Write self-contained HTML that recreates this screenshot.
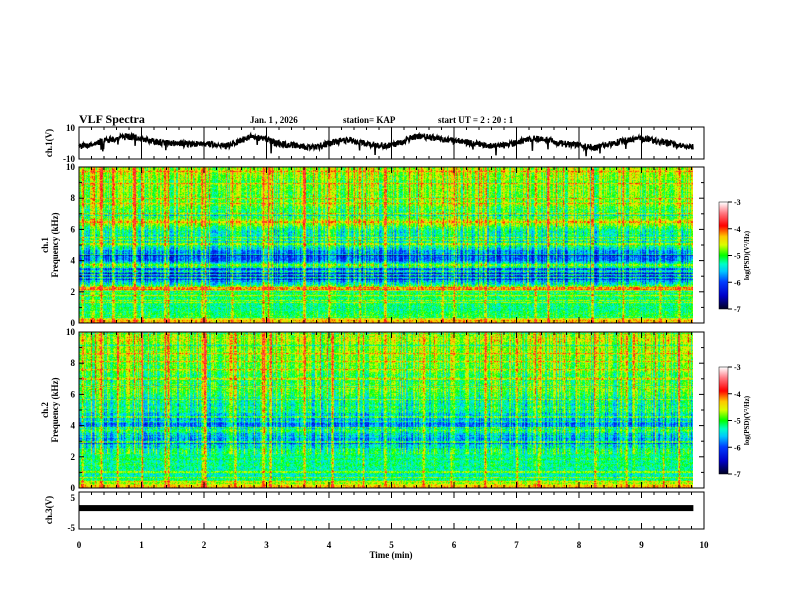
<!DOCTYPE html>
<html><head><meta charset="utf-8">
<style>
html,body{margin:0;padding:0;background:#fff;}
#wrap{position:relative;width:792px;height:612px;overflow:hidden;background:#fff;}
canvas{position:absolute;}
svg{position:absolute;left:0;top:0;}
text{font-family:"Liberation Serif",serif;font-weight:bold;fill:#000;}
</style></head>
<body>
<div id="wrap">
<canvas id="spec1" width="614" height="156" style="left:79px;top:167px"></canvas>
<canvas id="spec2" width="614" height="156" style="left:79px;top:332px"></canvas>
<canvas id="cb1" width="9" height="107" style="left:719px;top:202px"></canvas>
<canvas id="cb2" width="9" height="107" style="left:719px;top:367px"></canvas>
<svg id="svg" width="792" height="612"></svg>
</div>
<script>
// ---- data ----
const timeTicks = [0,1,2,3,4,5,6,7,8,9,10];
const freqTicks = [0,2,4,6,8,10];
const cbTicks = [-3,-4,-5,-6,-7];
// ch1 voltage trace (one sample every 0.2 min)
const ch1Volts = [-2,-1,1,3,4,3,1,0,0,-1,0,-1,-2,1,4,3,0,-1,-2,-3,-1,1,2,0,-1,-2,0,3,4,3,2,1,0,-1,-2,-1,1,3,2,0,-1,-2,-3,-1,1,2,3,1,0,-2];
const ch3Volts = [1,1,1,1,1,1,1,1,1,1];
// mean log PSD profile vs frequency (kHz from 0 to 10 at 0.25 kHz)
const freqBins = [0,0.25,0.5,0.75,1,1.25,1.5,1.75,2,2.25,2.5,2.75,3,3.25,3.5,3.75,4,4.25,4.5,4.75,5,5.25,5.5,5.75,6,6.25,6.5,6.75,7,7.25,7.5,7.75,8,8.25,8.5,8.75,9,9.25,9.5,9.75,10];
const profile1 = [-4.2,-4.4,-5.0,-5.1,-5.2,-5.2,-5.2,-5.1,-5.0,-4.4,-5.3,-5.7,-5.8,-5.9,-5.5,-4.9,-5.9,-6.0,-5.8,-5.6,-5.2,-5.3,-5.3,-5.3,-5.2,-5.0,-4.4,-5.0,-5.0,-5.0,-4.9,-4.9,-4.9,-4.9,-4.8,-4.8,-4.8,-4.8,-4.7,-4.7,-4.7];
const profile2 = [-4.1,-4.5,-5.1,-5.3,-5.3,-5.3,-5.2,-5.2,-5.2,-5.1,-5.3,-5.5,-5.6,-5.7,-5.5,-5.0,-5.8,-5.8,-5.6,-5.5,-5.2,-5.3,-5.3,-5.3,-5.1,-5.0,-4.6,-5.0,-5.1,-5.0,-4.9,-5.0,-4.9,-4.9,-4.8,-4.8,-4.8,-4.8,-4.7,-4.7,-4.7];
// times (min) of broadband impulsive streaks
const streaks1 = [0.05,0.2,0.35,0.55,0.9,1.0,1.38,1.42,1.97,2.02,2.45,2.95,3.02,3.6,4.0,4.5,4.9,5.8,6.0,6.5,7.3,7.5,8.2,8.7,9.3,9.6];
const streaks2 = [0.05,0.35,0.6,1.0,1.38,1.42,1.97,2.02,2.5,2.95,3.05,3.6,4.05,4.55,4.9,5.5,5.95,6.5,7.0,7.35,8.25,8.75,9.35,9.6];
const tMax = 9.83;

// ---- scales ----
const X0=79, X1=704;
function xs(t){return X0+(t/10)*(X1-X0);}
function hash(a,b){let h=(a*374761393+b*668265263)|0;h=(h^(h>>>13))*1274126177|0;h=h^(h>>>16);return ((h>>>0)%10000)/10000;}
function cmap(v){
  let t=Math.max(0,Math.min(1,(v+7)/4));
  const st=[[0,0,0,40],[0.12,0,0,200],[0.25,0,60,255],[0.35,0,200,255],[0.42,0,255,200],[0.5,0,255,0],[0.6,220,255,0],[0.68,255,200,0],[0.78,255,0,0],[0.9,255,120,130],[1,255,255,255]];
  for(let i=1;i<st.length;i++){if(t<=st[i][0]){const a=st[i-1],b=st[i],f=(t-a[0])/(b[0]-a[0]);return [a[1]+f*(b[1]-a[1]),a[2]+f*(b[2]-a[2]),a[3]+f*(b[3]-a[3])];}}
  return [255,255,255];
}
function prof(p,f){const i=Math.min(freqBins.length-2,Math.floor(f/0.25));const r=(f-freqBins[i])/0.25;return p[i]*(1-r)+p[i+1]*r;}
function drawSpec(id,p,streaks,seed){
  const c=document.getElementById(id),ctx=c.getContext('2d');
  const W=c.width,H=c.height,img=ctx.createImageData(W,H);
  const wData=Math.round((tMax/10)*(X1-X0));
  const sx=streaks.map(t=>Math.round((t/10)*(X1-X0)));
  const rowOff=[];for(let y=0;y<H;y++){const h=hash(y,seed+3);rowOff.push(h>0.9?0.5:(h<0.06?-0.5:(h-0.5)*0.3));}
  for(let x=0;x<W;x++){
    const hc=hash(x,seed);
    const colOff=(hc-0.5)*0.9;
    const thin=hash(x,seed+7)>0.9?0.45:0;
    let sBoost=0;for(const s of sx){const d=Math.abs(x-s);if(d<=1)sBoost=Math.max(sBoost,d==0?1.0:0.5);}
    for(let y=0;y<H;y++){
      const k=(y*W+x)*4;
      if(x>=wData){img.data[k]=255;img.data[k+1]=255;img.data[k+2]=255;img.data[k+3]=255;continue;}
      const f=10*(1-y/H);
      const hf=f>2.2?1:0.4;
      let v=prof(p,f)+colOff*hf+rowOff[y]+(hash(x*7+seed,y)-0.5)*0.6+thin*hf*(0.5+hash(y,x));
      if(sBoost>0) v+=sBoost*(0.4+0.8*hash(y,x+seed));
      v=Math.min(v,-3.6);
      const col=cmap(v);
      img.data[k]=col[0];img.data[k+1]=col[1];img.data[k+2]=col[2];img.data[k+3]=255;
    }
  }
  ctx.putImageData(img,0,0);
}
drawSpec('spec1',profile1,streaks1,11);
drawSpec('spec2',profile2,streaks2,29);
function drawCb(id){const c=document.getElementById(id),ctx=c.getContext('2d');for(let y=0;y<c.height;y++){const v=-3-4*y/(c.height-1);const col=cmap(v);ctx.fillStyle=`rgb(${col[0]|0},${col[1]|0},${col[2]|0})`;ctx.fillRect(0,y,c.width,1);}}
drawCb('cb1');drawCb('cb2');

// ---- SVG axes ----
const svg=document.getElementById('svg');const NS='http://www.w3.org/2000/svg';
function el(tag,attrs,txt){const e=document.createElementNS(NS,tag);for(const k in attrs)e.setAttribute(k,attrs[k]);if(txt!==undefined)e.textContent=txt;svg.appendChild(e);return e;}
function line(x1,y1,x2,y2,w){return el('line',{x1,y1,x2,y2,stroke:'#000','stroke-width':w||1});}
function txt(x,y,s,size,anchor,rot){const a={x,y,'font-size':size,'text-anchor':anchor||'start'};if(rot)a.transform=`rotate(-90 ${x} ${y})`;return el('text',a,s);}

const panels=[{y0:127,y1:159,name:'ch1-voltage-panel'},{y0:167,y1:323,name:'ch1-spectrogram-panel'},{y0:332,y1:488,name:'ch2-spectrogram-panel'},{y0:492,y1:529,name:'ch3-voltage-panel'}];
panels.forEach((p,i)=>{
  const r=el('rect',{x:X0,y:p.y0,width:X1-X0,height:p.y1-p.y0,fill:'none',stroke:'#000','stroke-width':1});
  
  
  for(let m=0;m<=50;m++){const x=xs(m/5),big=m%5==0;const L=big?6:3;
    if(i==0&&big&&m>0&&m<50){line(x,p.y0,x,p.y1,1);}
    line(x,p.y1,x,p.y1-L);line(x,p.y0,x,p.y0+L);}
});
timeTicks.forEach(t=>{const e=txt(xs(t),548,String(t),9,'middle');});
const xt=txt(391,558,'Time  (min)',9,'middle');

// ch1 trace
const yv=v=>143-(v/10)*16;
let d='';
const n=ch1Volts.length, sub=30;
for(let i=0;i<n;i++){
  const t0=i*tMax/n;
  for(let j=0;j<sub;j++){
    const t=t0+j*tMax/n/sub;const nxt=ch1Volts[Math.min(n-1,i+1)];
    let v=ch1Volts[i]+(nxt-ch1Volts[i])*j/sub+(hash(i*sub+j,5)-0.5)*4;
    if(hash(i*sub+j,9)>0.985) v-=6;
    d+=(d?'L':'M')+xs(t).toFixed(1)+' '+yv(v).toFixed(1);
  }
}
const tr=el('path',{d,fill:'none',stroke:'#000','stroke-width':1.5});

const y3=v=>510.5-(v/5)*12;
const b3=el('rect',{x:X0,y:y3(ch3Volts[0])-3,width:xs(tMax)-X0,height:6,fill:'#000'});


function ytick(x,y,s){const e=txt(x,y+3,s,9,'end');}
ytick(75,128,'10');ytick(75,159,'-10');
[[167,323],[332,488]].forEach(([a,b])=>{freqTicks.forEach(f=>{const y=b-(f/10)*(b-a);ytick(75,y,String(f));
  line(X0,y,X0+5,y);line(X1,y,X1-5,y);
  if(f<10){const y2=b-((f+1)/10)*(b-a);line(X0,y2,X0+3,y2);line(X1,y2,X1-3,y2);}});});
ytick(75,498,'5');ytick(75,528,'-5');
const l1=txt(52,143,'ch.1(V)',9,'middle',true);
const l2=txt(48,245,'ch.1',9,'middle',true);
const l3=txt(58,245,'Frequency  (kHz)',9,'middle',true);
const l4=txt(48,410,'ch.2',9,'middle',true);
const l5=txt(58,410,'Frequency  (kHz)',9,'middle',true);
const l6=txt(52,510,'ch.3(V)',9,'middle',true);

const t1=txt(79,123,'VLF Spectra',12);
const t2=txt(250,123,'Jan.  1  , 2026',9);
const t3=txt(343,123,'station= KAP',9);
const t4=txt(438,123,'start  UT  =   2  : 20 : 1',9);

[[202,309],[367,474]].forEach(([a,b])=>{
  el('rect',{x:719,y:a,width:9,height:b-a,fill:'none',stroke:'#000','stroke-width':0.5});
  cbTicks.forEach(v=>{const y=a+(-3-v)/4*(b-a);line(728,y,732,y);const e=txt(734,y+3,String(v),8);});
  const e=txt(749,(a+b)/2,'log(PSD)(V²/Hz)',7,'middle',true);
});
</script>
</body></html>
